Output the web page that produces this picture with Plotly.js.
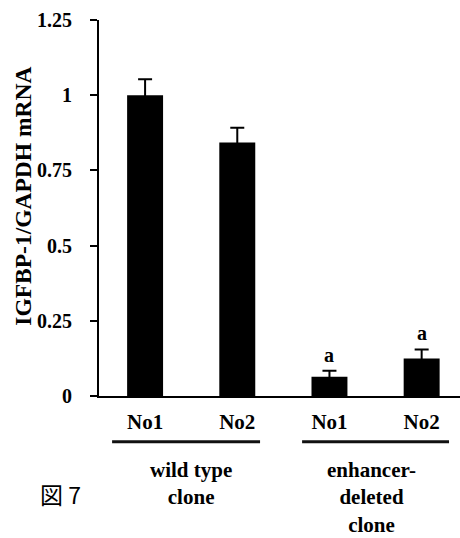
<!DOCTYPE html>
<html>
<head>
<meta charset="utf-8">
<script src="https://cdn.plot.ly/plotly-3.0.1.min.js"></script>
<style>html,body{margin:0;padding:0;background:#fff;}#chart{width:460px;height:538px;}</style>
</head>
<body>
<div id="chart"></div>
<script>
// Data
var categories = ["No1", "No2", "No1", "No2"];
var values = [1.0, 0.843, 0.064, 0.125];
var errors = [0.053, 0.049, 0.02, 0.03];
var sigLabels = ["", "", "a", "a"];
var groupLabels = ["wild type<br>clone", "enhancer-<br>deleted<br>clone"];
var yTickVals = [0, 0.25, 0.5, 0.75, 1, 1.25];
var yTickText = ["0", "0.25", "0.5", "0.75", "1", "1.25"];
var yTitle = "IGFBP-1/GAPDH mRNA";
var caption = "図 7";

var idx = categories.map(function (c, i) { return i; });
var serif = "Times New Roman, Liberation Serif, DejaVu Serif, serif";
function sf(size) { return { family: serif, size: size, color: "#000", weight: "bold" }; }

var trace = {
  type: "bar",
  x: idx,
  y: values,
  width: 0.39,
  marker: { color: "#000000", line: { width: 0 } },
  error_y: { type: "data", array: errors, visible: true, color: "#000000", thickness: 2, width: 7 },
  hoverinfo: "none"
};

var annotations = [];
sigLabels.forEach(function (s, i) {
  if (s) {
    annotations.push({
      x: idx[i], y: values[i] + errors[i], xref: "x", yref: "y",
      text: s, showarrow: false, yanchor: "middle", yshift: 16,
      font: sf(20)
    });
  }
});
annotations.push({
  x: -0.2105, y: 0.53, xref: "paper", yref: "paper", textangle: -90,
  text: yTitle, showarrow: false, xanchor: "center", yanchor: "middle",
  font: sf(23.5)
});
annotations.push({
  x: 0.5, y: -0.2327, xref: "x", yref: "paper", text: groupLabels[0],
  showarrow: false, xanchor: "center", yanchor: "middle",
  font: sf(21)
});
annotations.push({
  x: 2.46, y: -0.271, xref: "x", yref: "paper", text: groupLabels[1],
  showarrow: false, xanchor: "center", yanchor: "middle",
  font: sf(21)
});
annotations.push({
  x: -0.108, y: -0.2606, xref: "paper", yref: "paper", text: caption,
  showarrow: false, xanchor: "center", yanchor: "middle",
  font: { family: "Noto Sans CJK JP, Noto Sans, sans-serif", size: 23, color: "#000" }
});

var shapes = [
  { type: "line", xref: "x", yref: "paper", x0: -0.358, x1: 1.247, y0: -0.122, y1: -0.122, line: { color: "#111", width: 3 } },
  { type: "line", xref: "x", yref: "paper", x0: 1.703, x1: 3.297, y0: -0.122, y1: -0.122, line: { color: "#111", width: 3 } }
];

var layout = {
  width: 460, height: 538,
  margin: { l: 99, r: 0, t: 20, b: 142 },
  paper_bgcolor: "#fff", plot_bgcolor: "#fff",
  showlegend: false,
  font: { family: serif, color: "#000" },
  xaxis: {
    range: [-0.5, 3.416],
    tickvals: idx, ticktext: categories,
    ticks: "", showgrid: false, zeroline: false,
    showline: true, linecolor: "#000", linewidth: 2,
    tickfont: sf(21),
    ticklabelstandoff: 6,
    fixedrange: true
  },
  yaxis: {
    range: [0, 1.25],
    tickvals: yTickVals, ticktext: yTickText,
    ticks: "outside", ticklen: 7, tickwidth: 2, tickcolor: "#000",
    showgrid: false, zeroline: false,
    showline: true, linecolor: "#000", linewidth: 2,
    tickfont: sf(20),
    ticklabelstandoff: 14,
    fixedrange: true
  },
  annotations: annotations,
  shapes: shapes
};

Plotly.newPlot("chart", [trace], layout, { displayModeBar: false, staticPlot: true });
</script>
</body>
</html>
